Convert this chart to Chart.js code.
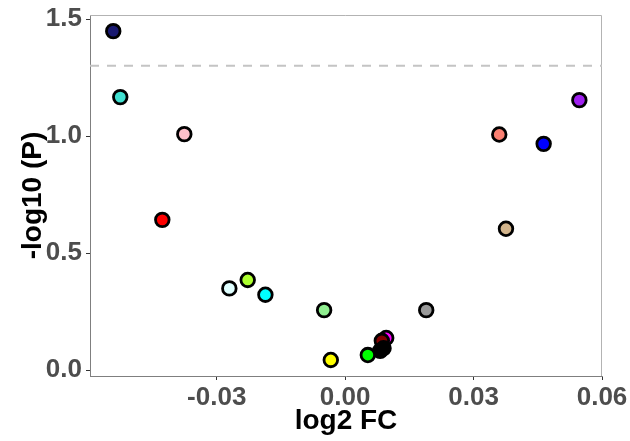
<!DOCTYPE html>
<html>
<head>
<meta charset="utf-8">
<script src="https://cdn.jsdelivr.net/npm/chart.js@4"></script>
<style>
html,body{margin:0;padding:0;background:#fff;}
#c{display:block;}
</style>
</head>
<body>
<canvas id="c" width="630" height="441"></canvas>
<script>
// data
const log2FC = [-0.05417, -0.05253, -0.03757, -0.04271, -0.02705, -0.02276, -0.01863, -0.00491, -0.00335, 0.01894, 0.03757, 0.03600, 0.04637, 0.05471, 0.00959, 0.00857, 0.00897, 0.00818, 0.00530];
const negLog10P = [1.449, 1.167, 1.0085, 0.642, 0.349, 0.385, 0.322, 0.256, 0.043, 0.256, 0.604, 1.007, 0.967, 1.154, 0.137, 0.125, 0.093, 0.082, 0.064];
const pointColors = ['#191970', '#40E0D0', '#FFC0CB', '#FF0000', '#E0FFFF', '#ADFF2F', '#00FFFF', '#90EE90', '#FFFF00', '#999999', '#D2B48C', '#FA8072', '#0000FF', '#A020F0', '#FF00FF', '#800000', '#000000', '#000000', '#00FF00'];
const xTicks = [-0.03, 0.00, 0.03, 0.06];
const yTicks = [0.0, 0.5, 1.0, 1.5];
const xRange = [-0.0596, 0.06];
const yRange = [-0.0256, 1.518];
const threshold = 1.301; // -log10(0.05)

const pts = log2FC.map((x, i) => ({x: x, y: negLog10P[i]}));

const frame = {
  id: 'frame',
  beforeDatasetsDraw(chart) {
    const a = chart.chartArea, ctx = chart.ctx;
    ctx.save();
    ctx.strokeStyle = '#b3b3b3';
    ctx.lineWidth = 1;
    ctx.beginPath();
    ctx.moveTo(a.left, a.top + 0.5);
    ctx.lineTo(a.right - 0.5, a.top + 0.5);
    ctx.lineTo(a.right - 0.5, a.bottom);
    ctx.stroke();
    ctx.restore();
  }
};

const tickFont = {family: 'Liberation Sans, Arial, sans-serif', size: 26, weight: 'bold'};
const titleFont = {family: 'Liberation Sans, Arial, sans-serif', size: 28, weight: 'bold'};

new Chart(document.getElementById('c'), {
  type: 'scatter',
  data: {
    datasets: [
      {
        type: 'line',
        data: [{x: xRange[0], y: threshold}, {x: xRange[1], y: threshold}],
        borderColor: '#c4c4c4',
        borderWidth: 2,
        borderDash: [9, 8],
        pointRadius: 0,
        fill: false
      },
      {
        data: pts,
        backgroundColor: pointColors,
        borderColor: '#000000',
        borderWidth: 2.8,
        pointRadius: 6.8,
        pointHoverRadius: 6.8
      }
    ]
  },
  options: {
    responsive: false,
    animation: false,
    events: [],
    layout: {padding: {top: 15, right: 28, left: 0, bottom: 0}},
    plugins: {legend: {display: false}, tooltip: {enabled: false}},
    scales: {
      x: {
        type: 'linear',
        min: xRange[0], max: xRange[1],
        afterBuildTicks: s => { s.ticks = xTicks.map(v => ({value: v})); },
        afterFit: s => { s.height = 65; s.paddingLeft = 0; s.paddingRight = 0; },
        ticks: {
          font: tickFont, color: '#4D4D4D', padding: 2,
          maxRotation: 0, autoSkip: false,
          callback: v => v.toFixed(2)
        },
        grid: {drawOnChartArea: false, drawTicks: true, tickLength: 4, color: '#333333'},
        border: {display: true, color: '#7f7f7f', width: 1},
        title: {display: true, text: 'log2 FC', color: '#000000', font: titleFont, padding: {top: 0, bottom: 3}}
      },
      y: {
        type: 'linear',
        min: yRange[0], max: yRange[1],
        afterBuildTicks: s => { s.ticks = yTicks.map(v => ({value: v})); },
        afterFit: s => { s.width = 90; s.paddingTop = 0; s.paddingBottom = 0; },
        ticks: {
          font: tickFont, color: '#4D4D4D', padding: 4,
          autoSkip: false,
          callback: v => v.toFixed(1)
        },
        grid: {drawOnChartArea: false, drawTicks: true, tickLength: 4, color: '#333333'},
        border: {display: true, color: '#7f7f7f', width: 1},
        title: {display: true, text: '-log10 (P)', color: '#000000', font: titleFont, padding: {top: 16, bottom: 0}}
      }
    }
  },
  plugins: [frame]
});
</script>
</body>
</html>
